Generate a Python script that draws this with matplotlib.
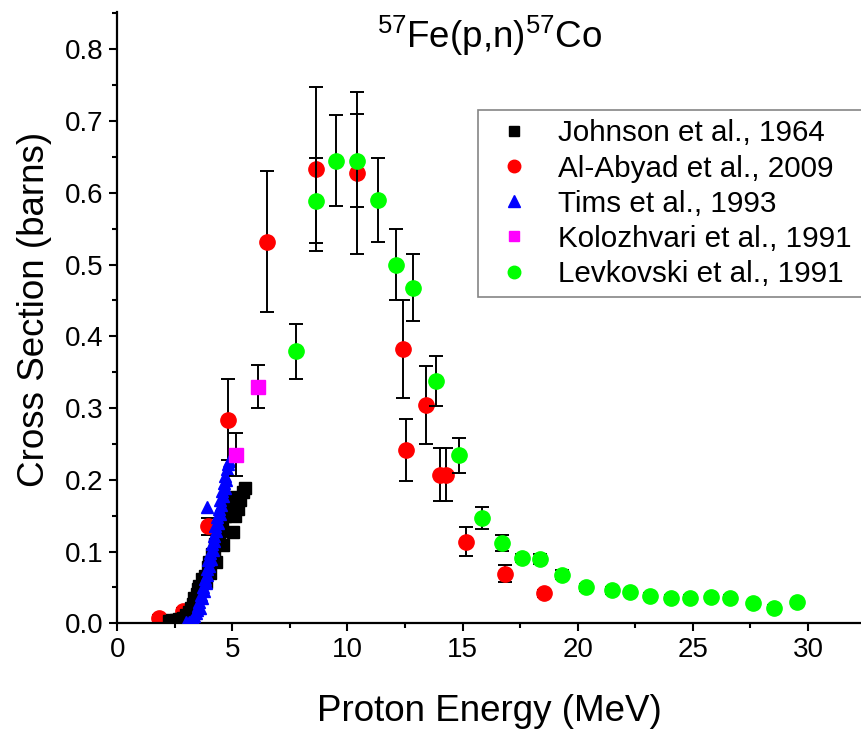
import matplotlib
matplotlib.use('Agg')
import matplotlib.pyplot as plt
from matplotlib.ticker import MultipleLocator, FormatStrFormatter

plt.rcParams['font.family'] = ['Liberation Sans', 'DejaVu Sans']
plt.rcParams['mathtext.fontset'] = 'custom'
plt.rcParams['mathtext.rm'] = 'Liberation Sans'

# Johnson et al., 1964
johnson_e = [2.25, 2.40, 2.55, 2.70, 2.85, 3.00, 3.10, 3.20, 3.30, 3.35,
             3.45, 3.50, 3.55, 3.65, 3.70, 3.80, 3.85, 3.95, 4.00, 4.05,
             4.10, 4.20, 4.25, 4.30, 4.40, 4.45, 4.55, 4.60, 4.70, 4.75,
             4.85, 4.95, 5.05, 5.10, 5.25, 5.35, 5.45, 5.55]
johnson_s = [0.003, 0.004, 0.004, 0.006, 0.008, 0.011, 0.016, 0.022, 0.027, 0.035,
             0.041, 0.048, 0.052, 0.046, 0.062, 0.066, 0.058, 0.078, 0.085, 0.070,
             0.096, 0.092, 0.110, 0.086, 0.120, 0.128, 0.140, 0.109, 0.150, 0.165,
             0.172, 0.176, 0.127, 0.150, 0.160, 0.172, 0.183, 0.188]

# Al-Abyad et al., 2009
abyad_e = [1.82, 2.86, 3.94, 4.81, 6.51, 8.63, 10.42, 12.41, 12.53, 13.43,
           14.04, 14.30, 15.14, 16.83, 18.53]
abyad_s = [0.007, 0.017, 0.135, 0.284, 0.532, 0.633, 0.628, 0.382, 0.242, 0.304,
           0.207, 0.207, 0.114, 0.069, 0.042]
abyad_err = [0.004, 0.005, 0.012, 0.057, 0.098, 0.114, 0.113, 0.068, 0.043, 0.054,
             0.037, 0.037, 0.020, 0.012, 0.005]

# Tims et al., 1993
tims_e = [3.00, 3.10, 3.20, 3.28, 3.35, 3.40, 3.45, 3.50, 3.55, 3.58,
          3.62, 3.68, 3.72, 3.75, 3.80, 3.85, 3.88, 3.92, 3.96, 4.00,
          4.04, 4.08, 4.12, 4.16, 4.20, 4.22, 4.26, 4.30, 4.34, 4.38,
          4.42, 4.45, 4.48, 4.52, 4.56, 4.60, 4.63, 4.66, 4.70, 4.74,
          4.78, 4.82, 4.86, 3.88]
tims_s = [0.002, 0.002, 0.003, 0.006, 0.010, 0.014, 0.018, 0.024, 0.030, 0.021,
          0.040, 0.035, 0.050, 0.045, 0.062, 0.056, 0.075, 0.068, 0.088, 0.080,
          0.098, 0.090, 0.110, 0.102, 0.122, 0.115, 0.135, 0.128, 0.148, 0.140,
          0.160, 0.152, 0.172, 0.165, 0.185, 0.178, 0.195, 0.188, 0.205, 0.200,
          0.215, 0.222, 0.226, 0.162]

# Kolozhvari et al., 1991
kol_e = [5.18, 6.12]
kol_s = [0.235, 0.330]
kol_err = [0.030, 0.030]

# Levkovski et al., 1991
levk_e = [7.75, 8.63, 9.52, 10.42, 11.31, 12.13, 12.85, 13.84, 14.85, 15.85,
          16.73, 17.56, 18.35, 19.32, 20.35, 21.47, 22.26, 23.16, 24.07, 24.87,
          25.77, 26.63, 27.62, 28.51, 29.53]
levk_s = [0.379, 0.589, 0.645, 0.645, 0.590, 0.500, 0.468, 0.338, 0.234, 0.147,
          0.112, 0.091, 0.089, 0.068, 0.050, 0.046, 0.043, 0.038, 0.035, 0.035,
          0.036, 0.035, 0.028, 0.022, 0.029]
levk_err = [0.038, 0.059, 0.064, 0.065, 0.059, 0.050, 0.047, 0.035, 0.024, 0.015,
            0.011, 0.006, 0.007, 0.006, 0.005, 0.005, 0.004, 0.004, 0.004, 0.004,
            0.004, 0.004, 0.003, 0.003, 0.003]

labels = ['Johnson et al., 1964', 'Al-Abyad et al., 2009', 'Tims et al., 1993',
          'Kolozhvari et al., 1991', 'Levkovski et al., 1991']

fig = plt.figure(figsize=(8.62, 7.29), dpi=100)
ax = fig.add_axes([0.136, 0.145, 0.864, 0.8385])

eb = dict(ecolor='black', elinewidth=1.4, capsize=5, capthick=1.4, linestyle='none')

h_abyad = ax.errorbar(abyad_e, abyad_s, yerr=abyad_err, marker='o', ms=11,
                      mfc='#ff0000', mec='#ff0000', zorder=2, **eb)
h_john, = ax.plot(johnson_e, johnson_s, 's', ms=8, color='black', zorder=3)
h_tims, = ax.plot(tims_e, tims_s, '^', ms=8.5, color='#0000ff', mec='#0000ff', zorder=4)
h_kol = ax.errorbar(kol_e, kol_s, yerr=kol_err, marker='s', ms=9.5,
                    mfc='#ff00ff', mec='#ff00ff', zorder=5, **eb)
h_levk = ax.errorbar(levk_e, levk_s, yerr=levk_err, marker='o', ms=11,
                     mfc='#00ff00', mec='#00ff00', zorder=6, **eb)

handles = [
    plt.Line2D([], [], ls='none', marker='s', ms=7, color='black'),
    plt.Line2D([], [], ls='none', marker='o', ms=9, color='#ff0000'),
    plt.Line2D([], [], ls='none', marker='^', ms=9, color='#0000ff'),
    plt.Line2D([], [], ls='none', marker='s', ms=7, color='#ff00ff'),
    plt.Line2D([], [], ls='none', marker='o', ms=9, color='#00ff00'),
]
leg = fig.legend(handles, labels, loc='upper left',
                 bbox_to_anchor=(478 / 862, 1 - 110 / 729),
                 fontsize=21.3, frameon=True, fancybox=False, edgecolor='#666666',
                 borderpad=0.32, labelspacing=0.24, handletextpad=0.6,
                 handlelength=1.8, borderaxespad=0)
leg.get_frame().set_linewidth(1.2)

ax.set_xlim(0, 32.35)
ax.set_ylim(0, 0.852)
ax.xaxis.set_major_locator(MultipleLocator(5))
ax.xaxis.set_minor_locator(MultipleLocator(2.5))
ax.yaxis.set_major_locator(MultipleLocator(0.1))
ax.yaxis.set_minor_locator(MultipleLocator(0.05))
ax.yaxis.set_major_formatter(FormatStrFormatter('%.1f'))

for side in ['top', 'right']:
    ax.spines[side].set_visible(False)
for side in ['left', 'bottom']:
    ax.spines[side].set_linewidth(1.6)

ax.tick_params(which='major', direction='out', length=6, width=1.5, labelsize=20, pad=4)
ax.tick_params(which='minor', direction='out', length=3.5, width=1.5)

ax.set_xlabel('Proton Energy (MeV)', fontsize=26.5)
ax.set_ylabel('Cross Section (barns)', fontsize=26.5)
ax.xaxis.set_label_coords(0.5, -0.115)
ax.yaxis.set_label_coords(-0.088, 0.514)

fig.text(0.568, 1 - 48 / 729, r'$\mathregular{^{57}}$Fe(p,n)$\mathregular{^{57}}$Co',
         ha='center', va='baseline', fontsize=26.5)

fig.savefig('out.png', dpi=100)
